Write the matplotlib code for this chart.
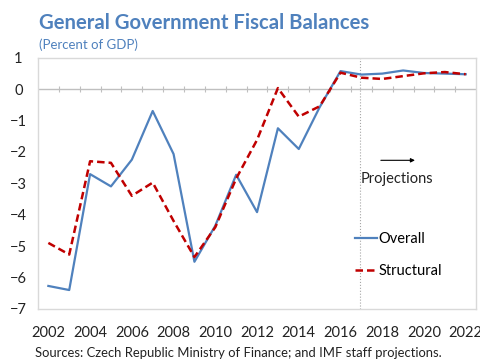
import matplotlib
matplotlib.use('Agg')
import matplotlib.pyplot as plt

years = list(range(2002, 2023))
overall = [-6.27, -6.40, -2.71, -3.10, -2.25, -0.70, -2.07, -5.50, -4.35, -2.73, -3.92,
           -1.25, -1.91, -0.58, 0.57, 0.46, 0.49, 0.59, 0.51, 0.49, 0.47]
structural = [-4.90, -5.27, -2.30, -2.35, -3.40, -2.98, -4.20, -5.35, -4.40, -2.85, -1.62,
              0.03, -0.88, -0.55, 0.52, 0.36, 0.32, 0.41, 0.50, 0.54, 0.47]
xtick_years = list(range(2002, 2023, 2))
yticks = list(range(-7, 2))
proj_start = 2016.92

plt.rcParams['font.family'] = ['Lato', 'DejaVu Sans']
title_color = '#4f81bd'

fig = plt.figure(figsize=(4.8, 3.6), dpi=100)
ax = fig.add_axes([0.079, 0.142, 0.913, 0.698])

ax.plot(years, overall, color='#4f81bd', lw=1.6, label='Overall')
ax.plot(years, structural, color='#c00000', lw=1.8, ls=(0, (3, 1.6)), label='Structural')

ax.axhline(0, color='#bfbfbf', lw=1, zorder=0)
ax.axvline(proj_start, color='#a6a6a6', lw=0.8, ls=':', zorder=0)

ax.set_xlim(2001.5, 2022.5)
ax.set_ylim(-7, 1)
ax.set_yticks(yticks)
ax.set_xticks(xtick_years)
ax.tick_params(axis='both', length=0, labelsize=10.5, colors='#222222')
ax.tick_params(axis='x', pad=12)
ax.tick_params(axis='y', pad=14)
for lab in ax.get_yticklabels():
    lab.set_horizontalalignment('center')

for s in ax.spines.values():
    s.set_color('#d9d9d9')
    s.set_linewidth(1)

# small category ticks along the zero line
zero_axis = ax.secondary_xaxis(7 / 8)
zero_axis.set_xticks([y + 0.5 for y in years[:-1]])
zero_axis.tick_params(axis='x', direction='inout', length=4, color='#bfbfbf', labelbottom=False, labeltop=False)
zero_axis.spines['top'].set_visible(False)
zero_axis.spines['bottom'].set_visible(False)

leg = ax.legend(loc='lower left', bbox_to_anchor=(0.71, 0.10), frameon=False, fontsize=10.5,
                handlelength=1.5, handletextpad=0.1, labelspacing=1.25, borderaxespad=0)

ax.annotate('', xy=(2019.7, -2.27), xytext=(2017.8, -2.27),
            arrowprops=dict(arrowstyle='-|>', color='black', lw=0.8, mutation_scale=6))
ax.text(2016.95, -2.85, 'Projections', fontsize=10.5, color='#222222', va='center')

fig.text(0.081, 0.936, 'General Government Fiscal Balances', fontsize=14.6, fontweight='bold',
         color=title_color, va='center')
fig.text(0.081, 0.877, '(Percent of GDP)', fontsize=9.5, color=title_color, va='center')
fig.text(0.073, 1 - 347 / 360, 'Sources: Czech Republic Ministry of Finance; and IMF staff projections.',
         fontsize=9.4, color='#222222', va='top')

plt.savefig('out.png', dpi=100)
